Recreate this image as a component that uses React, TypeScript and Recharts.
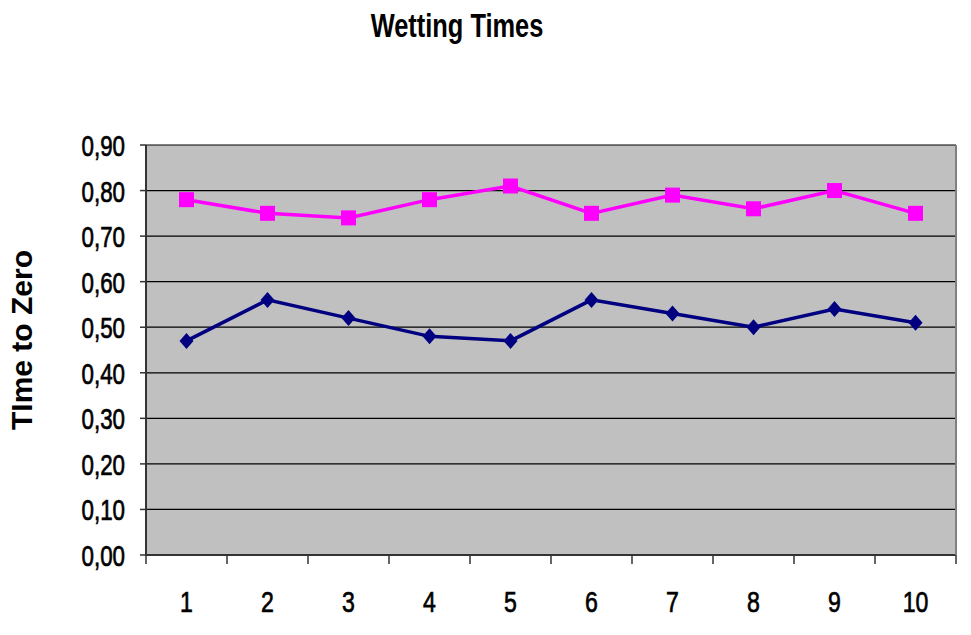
import React from 'react';
import { LineChart, Line, XAxis, YAxis, CartesianGrid } from 'recharts';

const categories = ['1', '2', '3', '4', '5', '6', '7', '8', '9', '10'];
const pinkValues = [0.78, 0.75, 0.74, 0.78, 0.81, 0.75, 0.79, 0.76, 0.8, 0.75];
const navyValues = [0.47, 0.56, 0.52, 0.48, 0.47, 0.56, 0.53, 0.5, 0.54, 0.51];
const yTicks = [0, 0.1, 0.2, 0.3, 0.4, 0.5, 0.6, 0.7, 0.8, 0.9];

const data = categories.map((c, i) => ({ cat: c, pink: pinkValues[i], navy: navyValues[i] }));

const W = 971;
const H = 635;
const M = { top: 145, right: 14, bottom: 0, left: 0 };
const YW = 146;
const XH = 80;
const plotW = W - M.left - M.right - YW - 1;
const half = plotW / categories.length / 2;

const FONT = '"Liberation Sans", Arial, sans-serif';
const SX = 0.77;

const NarrowText = ({ x, y, anchor, size, bold, children }: any) => (
  <text
    transform={`translate(${x} ${y}) scale(${SX} 1)`}
    x={0}
    y={0}
    textAnchor={anchor}
    fontFamily={FONT}
    fontWeight={bold ? 'bold' : 'normal'}
    fontSize={size}
    fill="#000"
    stroke={bold ? 'none' : '#000'}
    strokeWidth={bold ? 0 : 0.7}
  >
    {children}
  </text>
);

const Square = (props: any) => {
  const { cx, cy } = props;
  if (cx == null || cy == null) return null;
  return <rect x={cx - 7.5} y={cy - 7.5} width={15} height={15} fill="#ff00ff" />;
};

const Diamond = (props: any) => {
  const { cx, cy } = props;
  if (cx == null || cy == null) return null;
  const r = 8;
  return <polygon points={`${cx},${cy - r} ${cx + 7},${cy} ${cx},${cy + r} ${cx - 7},${cy}`} fill="#000080" />;
};

const XTick = (props: any) => {
  const { x, y, payload, index } = props;
  const last = index === categories.length - 1;
  return (
    <g>
      <line x1={x - half} x2={x - half} y1={y} y2={y + 9} stroke="#333" strokeWidth={1.5} />
      {last && <line x1={x + half} x2={x + half} y1={y} y2={y + 9} stroke="#333" strokeWidth={1.5} />}
      <NarrowText x={x} y={y + 57} anchor="middle" size={30}>
        {payload.value}
      </NarrowText>
    </g>
  );
};

const fmt = (v: number) => v.toFixed(2).replace('.', ',');

const YTick = (props: any) => {
  const { x, y, payload } = props;
  return (
    <NarrowText x={x} y={y + 11} anchor="end" size={29}>
      {fmt(payload.value)}
    </NarrowText>
  );
};

export default function App() {
  return (
    <div style={{ position: 'absolute', left: 0, top: 0, width: W, height: H, background: '#fff' }}>
      <LineChart width={W} height={H} data={data} margin={M}>
        <NarrowText x={457} y={37} anchor="middle" size={33} bold>
          Wetting Times
        </NarrowText>
        <text
          x={32}
          y={340}
          transform="rotate(-90 32 340)"
          textAnchor="middle"
          fontFamily={FONT}
          fontWeight="bold"
          fontSize={30}
          fill="#000"
        >
          TIme to Zero
        </text>
        <CartesianGrid fill="#c0c0c0" vertical={false} stroke="#000" strokeWidth={1.2} yAxisId="left" />
        <XAxis
          dataKey="cat"
          xAxisId="bottom"
          scale="band"
          height={XH}
          tickLine={false}
          tickSize={0}
          tickMargin={0}
          axisLine={{ stroke: '#333', strokeWidth: 2 }}
          tick={<XTick />}
          interval={0}
        />
        <XAxis dataKey="cat" xAxisId="top" orientation="top" scale="band" height={0} tick={false} tickLine={false} axisLine={{ stroke: '#808080', strokeWidth: 2 }} />
        <YAxis
          yAxisId="left"
          domain={[0, 0.9]}
          ticks={yTicks}
          width={YW}
          tickSize={6}
          tickMargin={15}
          tickLine={{ stroke: '#333', strokeWidth: 1.5 }}
          axisLine={{ stroke: '#333', strokeWidth: 2 }}
          tick={<YTick />}
          interval={0}
        />
        <YAxis yAxisId="right" orientation="right" domain={[0, 0.9]} width={1} tick={false} tickLine={false} axisLine={{ stroke: '#808080', strokeWidth: 2 }} />
        <Line
          xAxisId="bottom"
          yAxisId="left"
          dataKey="navy"
          stroke="#000080"
          strokeWidth={3.5}
          dot={<Diamond />}
          activeDot={false}
          isAnimationActive={false}
        />
        <Line
          xAxisId="bottom"
          yAxisId="left"
          dataKey="pink"
          stroke="#ff00ff"
          strokeWidth={3.5}
          dot={<Square />}
          activeDot={false}
          isAnimationActive={false}
        />
      </LineChart>
    </div>
  );
}
